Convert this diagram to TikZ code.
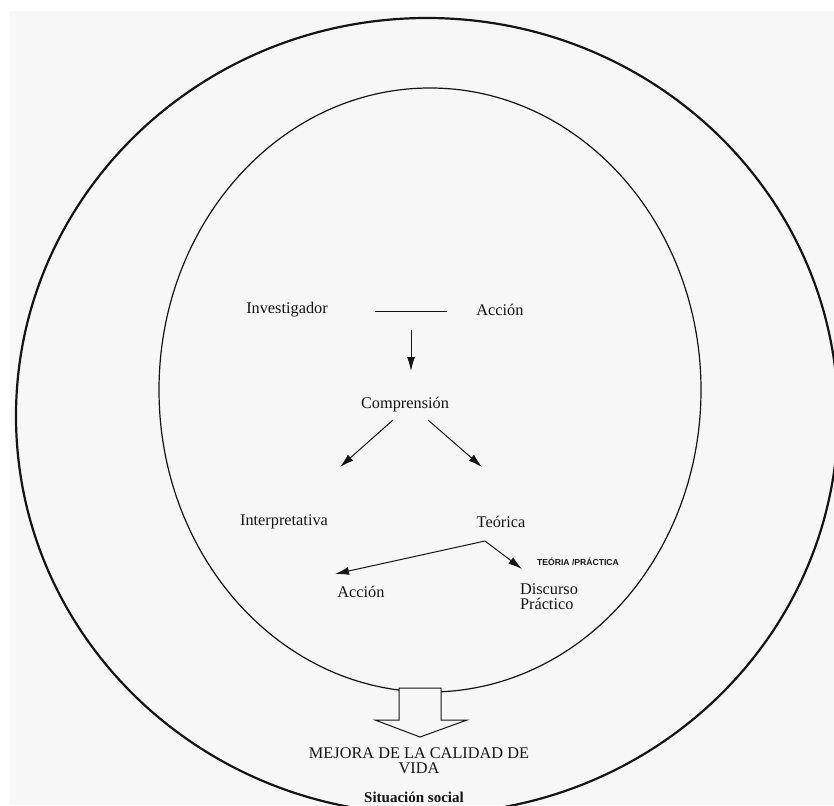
\documentclass[tikz,border=0pt]{standalone}
\usepackage{fontspec}
\setmainfont{Liberation Serif}
\newfontfamily\smallsans{Liberation Sans}
\usetikzlibrary{arrows.meta}
\definecolor{bgc}{HTML}{F7F7F7}
\definecolor{ink}{HTML}{141414}
\begin{document}
\begin{tikzpicture}[x=1pt,y=-1pt,
  lbl/.style={font=\fontsize{16.3}{18}\selectfont, text=ink, inner sep=1pt},
  arr/.style={draw=ink, line width=1pt, -{Latex[length=14pt,width=8pt]}},
  plain/.style={draw=ink, line width=1pt}]
\useasboundingbox (0,0) rectangle (834,805);
\fill[white] (0,0) rectangle (834,805);
\fill[bgc] (10,11) rectangle (834,805);
\begin{scope}
\clip (10,11) rectangle (834,805);
\draw[ink, line width=2.2pt] (427,416) ellipse [x radius=411, y radius=398];
\end{scope}
\draw[ink, line width=1.2pt] (430,390) ellipse [x radius=271, y radius=302];

\node[lbl] (inv) at (287,310) {Investigador};
\node[lbl] (acc1) at (500,310) {Acción};
\coordinate (l1) at (375,311);
\coordinate (l2) at (447,311);
\draw[plain] (l1) -- (l2);
\coordinate (v1) at (411,330);
\coordinate (v2) at (411,371);
\draw[arr] (v1) -- (v2);
\node[lbl] (comp) at (405,405) {Comprensión};
\coordinate (cl1) at (393,420);
\coordinate (cl2) at (340,467);
\coordinate (cr1) at (428,420);
\coordinate (cr2) at (482,467);
\draw[arr] (cl1) -- (cl2);
\draw[arr] (cr1) -- (cr2);
\node[lbl] (interp) at (284,522) {Interpretativa};
\node[lbl] (teo) at (501,522) {Teórica};
\coordinate (tv) at (485,541);
\coordinate (tl) at (335,574);
\coordinate (tr) at (522,569);
\draw[arr] (tv) -- (tl);
\draw[arr] (tv) -- (tr);
\node[inner sep=0pt, font=\smallsans\bfseries\fontsize{8.6}{9}\selectfont, text=ink] (tp) at (578,562) {TEÓRIA /PRÁCTICA};
\node[lbl] (acc2) at (361,592) {Acción};
\node[lbl, align=left] (disc) at (549,597) {Discurso\\[-3pt]Práctico};

\draw[ink, line width=1pt, fill=bgc] (399,688) -- (441,688) -- (441,720) -- (467,720) -- (420,737) -- (375,720) -- (399,720) -- cycle;
\node[lbl, align=center] (mej) at (419,761) {MEJORA DE LA CALIDAD DE\\[-3pt]VIDA};
\node[font=\bfseries\fontsize{15}{16}\selectfont, text=ink, inner sep=1pt] (sit) at (414,797) {Situación social};
\end{tikzpicture}
\end{document}
